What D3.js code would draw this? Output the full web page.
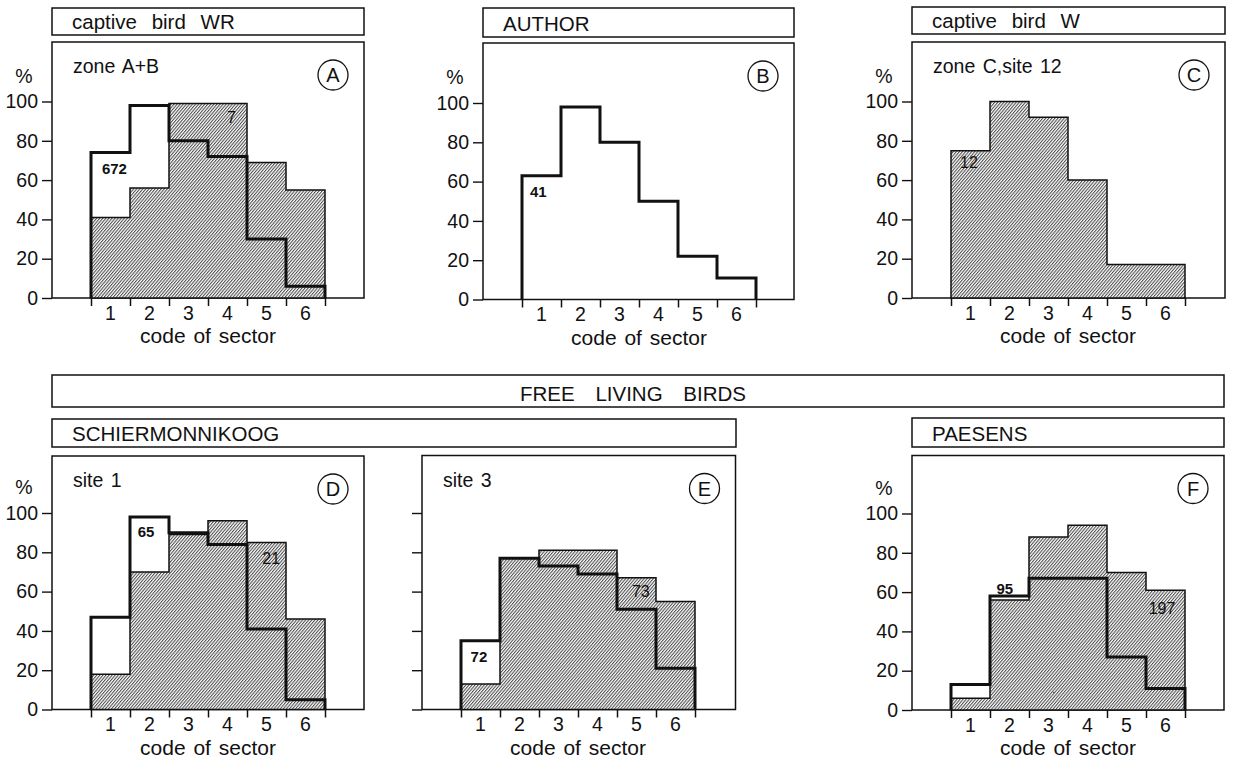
<!DOCTYPE html>
<html><head><meta charset="utf-8">
<script src="https://cdn.jsdelivr.net/npm/d3@7"></script>
<style>
body{margin:0;background:#fff}
text{font-family:"Liberation Sans",Arial,sans-serif;fill:#111}
</style></head>
<body><svg id="chart" width="1233" height="759"></svg>
<script>
// ---------- data ----------
const sectors = [1, 2, 3, 4, 5, 6];
const yTicks = [0, 20, 40, 60, 80, 100];
const xTitle = "code of sector";

// hatched histograms (% per sector)
const hatchA = [41, 56, 99, 99, 69, 55];
const hatchC = [75, 100, 92, 60, 17, 17];
const hatchD = [18, 70, 89, 96, 85, 46];
const hatchE = [13, 77, 81, 81, 67, 55];
const hatchF = [6, 56, 88, 94, 70, 61];
// heavy-outline histograms (% per sector)
const lineA = [74, 98, 80, 72, 30, 6];
const lineB = [63, 98, 80, 50, 22, 11];
const lineD = [47, 98, 90, 84, 41, 5];
const lineE = [35, 77, 73, 69, 51, 21];
const lineF = [13, 58, 67, 67, 27, 11];

// sample-size annotations: text, position in sector units, value in %
const notesA = [["672", 0.6, 66, true], ["7", 3.6, 92, false]];
const notesB = [["41", 0.42, 55, true]];
const notesC = [["12", 0.46, 69, false]];
const notesD = [["65", 1.41, 90.5, true], ["21", 4.62, 77, false]];
const notesE = [["72", 0.46, 27, true], ["73", 4.61, 60, false]];
const notesF = [["95", 1.38, 62, true], ["197", 5.41, 52, false]];

const headerTexts = ["captive bird WR", "AUTHOR", "captive bird W", "FREE LIVING BIRDS", "SCHIERMONNIKOOG", "PAESENS"];
const subtitles = ["zone A+B", "", "zone C,site 12", "site 1", "site 3", ""];
const panelLetters = ["A", "B", "C", "D", "E", "F"];

// ---------- layout ----------
const svg = d3.select("#chart");
const ink = "#111";
const defs = svg.append("defs");
const pat = defs.append("pattern").attr("id", "hatch")
  .attr("patternUnits", "userSpaceOnUse").attr("width", 2.35).attr("height", 10)
  .attr("patternTransform", "rotate(40)");
pat.append("rect").attr("width", 2.35).attr("height", 10).attr("fill", "#fff");
pat.append("line").attr("x1", 0.6).attr("x2", 0.6).attr("y1", -1).attr("y2", 11)
  .attr("stroke", ink).attr("stroke-width", 0.8);

const headerBoxes = [
  {x0: 52, y0: 8, x1: 364, y1: 35, anchor: "start"},
  {x0: 483, y0: 8, x1: 794, y1: 37, anchor: "start"},
  {x0: 912, y0: 7, x1: 1225, y1: 34, anchor: "start"},
  {x0: 52, y0: 375, x1: 1224, y1: 407, anchor: "middle"},
  {x0: 52, y0: 419, x1: 736, y1: 447, anchor: "start"},
  {x0: 912, y0: 418, x1: 1224, y1: 447, anchor: "start"}
];

headerBoxes.forEach((b, i) => {
  svg.append("rect").attr("x", b.x0).attr("y", b.y0)
    .attr("width", b.x1 - b.x0).attr("height", b.y1 - b.y0)
    .attr("fill", "none").attr("stroke", ink).attr("stroke-width", 1.5);
  svg.append("text")
    .attr("x", b.anchor === "middle" ? 633 : b.x0 + 20)
    .attr("y", b.y1 - 6)
    .attr("text-anchor", b.anchor)
    .attr("font-size", 20.5)
    .attr("word-spacing", b.anchor === "middle" ? 15 : 9)
    .text(headerTexts[i]);
});

const panels = [
  {box: [52, 42, 364, 298], hatch: hatchA, line: lineA, notes: notesA, yLabels: true},
  {box: [483, 43, 794, 299.5], hatch: null, line: lineB, notes: notesB, yLabels: true},
  {box: [912, 42, 1225, 298], hatch: hatchC, line: null, notes: notesC, yLabels: true},
  {box: [52, 456, 364, 709.5], hatch: hatchD, line: lineD, notes: notesD, yLabels: true},
  {box: [422, 455.5, 735.5, 709.5], hatch: hatchE, line: lineE, notes: notesE, yLabels: false},
  {box: [912, 455.5, 1224, 710], hatch: hatchF, line: lineF, notes: notesF, yLabels: true}
];

panels.forEach((p, i) => {
  const [bx0, by0, bx1, by1] = p.box;
  const g = svg.append("g");
  const y = d3.scaleLinear().domain([0, 100]).range([by1, by1 - 196.5]);
  const xe = d3.scaleLinear().domain([0, 6]).range([bx0 + 39, bx0 + 273]);
  const xb = d3.scaleBand().domain(sectors).range([bx0 + 39, bx0 + 273]).paddingInner(0).paddingOuter(0);

  // frame
  g.append("rect").attr("x", bx0).attr("y", by0).attr("width", bx1 - bx0).attr("height", by1 - by0)
    .attr("fill", "none").attr("stroke", ink).attr("stroke-width", 1.5);

  // hatched histogram
  if (p.hatch) {
    const pts = p.hatch.map((v, k) => [k, v]).concat([[6, p.hatch[5]]]);
    const area = d3.area().curve(d3.curveStepAfter)
      .x(d => xe(d[0])).y0(y(0)).y1(d => y(d[1]));
    g.append("path").attr("d", area(pts)).attr("fill", "url(#hatch)")
      .attr("stroke", ink).attr("stroke-width", 1.5).attr("stroke-linejoin", "miter");
  }
  // heavy outline histogram
  if (p.line) {
    const pts = [[0, 0]].concat(p.line.map((v, k) => [k, v])).concat([[6, p.line[5]], [6, 0]]);
    const line = d3.line().curve(d3.curveStepAfter).x(d => xe(d[0])).y(d => y(d[1]));
    g.append("path").attr("d", line(pts)).attr("fill", "none")
      .attr("stroke", ink).attr("stroke-width", 3).attr("stroke-linejoin", "miter");
  }

  // y axis
  const ya = d3.axisLeft(y).tickValues(yTicks).tickSize(10).tickPadding(4)
    .tickFormat(p.yLabels ? d3.format("d") : () => "");
  const yg = g.append("g").attr("transform", `translate(${bx0},0)`).call(ya);
  yg.select(".domain").remove();
  yg.selectAll("line").attr("stroke", ink).attr("stroke-width", 1.4);
  yg.selectAll("text").attr("font-size", 19.5).attr("font-family", "Liberation Sans, Arial, sans-serif").attr("fill", ink);
  if (p.yLabels) {
    g.append("text").attr("x", bx0 - 28).attr("y", y(100) - 19).attr("text-anchor", "middle")
      .attr("font-size", 19.5).text("%");
  }

  // x axis: ticks at sector edges, labels at sector centres
  const xt = d3.axisBottom(xe).tickValues(d3.range(0, 7)).tickSize(8).tickFormat(() => "");
  const xg = g.append("g").attr("transform", `translate(0,${by1})`).call(xt);
  xg.select(".domain").remove();
  xg.selectAll("line").attr("stroke", ink).attr("stroke-width", 1.5);
  const xl = d3.axisBottom(xb).tickSize(0).tickPadding(8);
  const xlg = g.append("g").attr("transform", `translate(0,${by1})`).call(xl);
  xlg.select(".domain").remove();
  xlg.selectAll("text").attr("font-size", 19.5).attr("font-family", "Liberation Sans, Arial, sans-serif").attr("fill", ink);
  g.append("text").attr("x", xe(3)).attr("y", by1 + 45).attr("text-anchor", "middle")
    .attr("font-size", 21).attr("word-spacing", 2).text(xTitle);

  // subtitle
  if (subtitles[i]) {
    g.append("text").attr("x", bx0 + 21).attr("y", by0 + 31).attr("font-size", 19.5)
      .attr("word-spacing", 2).text(subtitles[i]);
  }
  // panel letter
  g.append("circle").attr("cx", bx1 - 31).attr("cy", by0 + 33).attr("r", 15)
    .attr("fill", "none").attr("stroke", ink).attr("stroke-width", 1.3);
  g.append("text").attr("x", bx1 - 31).attr("y", by0 + 33).attr("dy", "0.36em")
    .attr("text-anchor", "middle").attr("font-size", 20).text(panelLetters[i]);

  // sample size notes
  p.notes.forEach(([t, s, v, bold]) => {
    g.append("text").attr("x", xe(s)).attr("y", y(v)).attr("dy", "0.36em")
      .attr("text-anchor", "middle").attr("font-size", bold ? 15 : 16)
      .attr("font-weight", bold ? "bold" : "normal").text(t);
  });
});
</script></body></html>
